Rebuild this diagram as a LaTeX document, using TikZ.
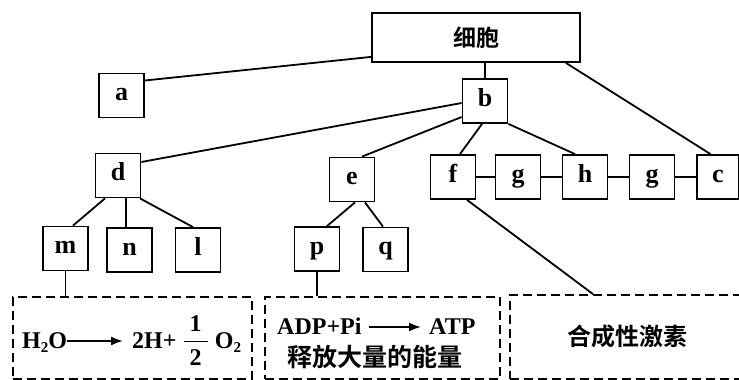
\documentclass[tikz,border=0pt]{standalone}
\usepackage{amsmath}
\usepackage{fontspec}
\setmainfont{Liberation Serif}
\newfontfamily\cjk{Noto Sans CJK SC}[BoldFont={Noto Sans CJK SC Bold}]
\usetikzlibrary{arrows.meta}
\begin{document}
\begin{tikzpicture}[x=1pt,y=-1pt,
  box/.style={draw, line width=1.8pt, minimum width=45pt, minimum height=44pt, inner sep=0pt,
              text height=12pt, text depth=2pt,
              font=\fontsize{26}{28}\selectfont\bfseries},
  link/.style={line width=1.8pt},
  dbox/.style={draw, dash pattern=on 9pt off 5pt, line width=1.8pt, inner sep=0pt},
  txt/.style={font=\fontsize{24}{26}\selectfont\bfseries, inner sep=0pt},
  cn/.style={font=\cjk\bfseries\fontsize{24}{28}\selectfont, inner sep=0pt},
  arr/.style={line width=1.8pt, -{Latex[length=12pt,width=9pt]}}]
\useasboundingbox (0,0) rectangle (739,380);
\clip (0,0) rectangle (739,380);

% boxes
\node[box, minimum width=208pt, minimum height=49pt, text height=, text depth=, font=\cjk\bfseries\fontsize{23}{25}\selectfont] (cell) at (476,37.5) {细胞};
\node[box] (a) at (121.5,95.5) {a};
\node[box] (b) at (485,101) {b};
\node[box] (d) at (118,175.5) {d};
\node[box] (e) at (352,179.5) {e};
\node[box] (f) at (453,177) {f};
\node[box] (g1) at (518,177) {g};
\node[box] (h) at (585,177) {h};
\node[box] (g2) at (652,177) {g};
\node[box, minimum width=42pt] (c) at (718,177) {c};
\node[box] (m) at (65.5,248.5) {m};
\node[box] (n) at (129.5,250) {n};
\node[box] (l) at (198,250) {l};
\node[box] (p) at (317,249) {p};
\node[box] (q) at (385.5,249.5) {q};

% dashed boxes
\node[dbox, minimum width=239pt, minimum height=82pt] (box1) at (132.5,338) {};
\node[dbox, minimum width=235pt, minimum height=82pt] (box2) at (382.5,338) {};
\node[dbox, minimum width=270pt, minimum height=84pt] (box3) at (645,337) {};

% connectors
\draw[link] ([yshift=6pt]cell.south west) -- ([yshift=15pt]a.east);
\draw[link] (b.north) -- (b.north |- cell.south);
\draw[link] ([xshift=-15pt]cell.south east) -- ([xshift=-7.5pt]c.north);
\draw[link] ([yshift=-2pt]b.west) -- ([yshift=13.5pt]d.east);
\draw[link] ([yshift=-16pt]b.west) -- ([xshift=10pt]e.north);
\draw[link] ([xshift=-3pt]b.south) -- ([xshift=7pt]f.north);
\draw[link] (b.south east) -- ([xshift=-10pt]h.north);
\draw[link] (f) -- (g1);
\draw[link] (g1) -- (h);
\draw[link] (h) -- (g2);
\draw[link] (g2) -- (c);
\draw[link] ([xshift=-13pt]d.south) -- ([xshift=7.5pt]m.north);
\draw[link] ([xshift=8pt]d.south) -- ([xshift=8pt]d.south |- n.north);
\draw[link] ([xshift=22pt]d.south) -- ([xshift=-5pt]l.north);
\draw[link] ([xshift=3pt]e.south) -- ([xshift=10pt]p.north);
\draw[link] ([xshift=13pt]e.south) -- ([xshift=-2.5pt]q.north);
\draw[link] (m.south) -- (m.south |- box1.north);
\draw[link] (p.south) -- (p.south |- box2.north);
\draw[link] ([xshift=14pt]f.south) -- ([xshift=-52pt]box3.north);

% box 1 text
\node[txt, anchor=base west] (h2o) at (22,348) {H\raisebox{-4pt}{\fontsize{15}{15}\selectfont 2}O};
\node[txt, anchor=base west] (rhs) at (132,348) {2H+\hspace{6pt}$\genfrac{}{}{1.4pt}{0}{\text{\hspace{6pt}1\hspace{6pt}}}{\text{2}}$\hspace{6pt}O\raisebox{-4pt}{\fontsize{15}{15}\selectfont 2}};
\draw[arr, shorten >=9pt] ([yshift=7pt]h2o.base east) -- ([yshift=7pt]rhs.base west);

% box 2 text
\node[txt, anchor=base west] (adp) at (277,334) {ADP+Pi};
\node[txt, anchor=base west] (atp) at (429,334) {ATP};
\draw[arr, shorten <=7pt, shorten >=8pt] ([yshift=7pt]adp.base east) -- ([yshift=7pt]atp.base west);
\node[cn, font=\cjk\bfseries\fontsize{25}{28}\selectfont] (rel) at (374.5,357) {释放大量的能量};

% box 3 text
\node[cn] (hor) at (627.5,336) {合成性激素};
\end{tikzpicture}
\end{document}
